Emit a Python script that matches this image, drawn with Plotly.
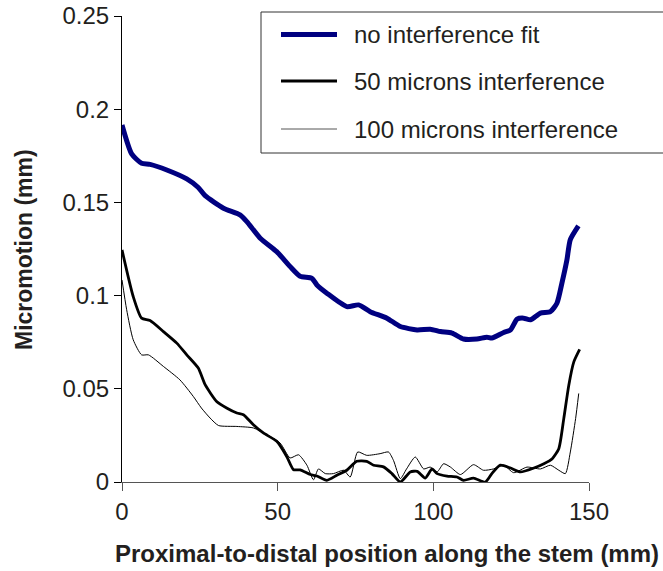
import plotly.graph_objects as go

# ---- data ----
x_nofit = [0, 3.1, 6.3, 9, 14.4, 20.8, 24.5, 26.7, 32.6, 37.9, 40.1, 44.4, 49.7, 54, 57.2, 61, 62.6,
           65.8, 72.2, 76, 79.7, 85.1, 89.4, 94.8, 99, 102.3, 106, 109.7, 114, 117.2, 118.8, 122.6,
           124.8, 126.9, 129, 131.2, 134.4, 137.6, 139.7, 141.3, 142.9, 144, 146.6]
y_nofit = [0.1915, 0.176, 0.171, 0.1704, 0.1674, 0.1626, 0.158, 0.1536, 0.1469, 0.1433, 0.1397,
           0.1308, 0.1236, 0.1156, 0.1104, 0.1093, 0.1057, 0.1013, 0.0941, 0.095, 0.0914, 0.0879,
           0.0834, 0.0816, 0.082, 0.0807, 0.0799, 0.0767, 0.0767, 0.0777, 0.0772, 0.0802, 0.0816,
           0.0874, 0.0879, 0.087, 0.0906, 0.0914, 0.0959, 0.1067, 0.1191, 0.13, 0.1374]

x_50 = [0, 3.6, 6.3, 9, 13.3, 17.6, 20.8, 24.5, 26.7, 30.4, 33.6, 36.9, 39, 42.2, 45.4, 49.7, 52.9,
        55.1, 57.2, 60.5, 62.6, 65.8, 69, 72.2, 75.4, 78.6, 80.8, 84, 86.7, 89.4, 92.6, 94.8, 97.4,
        99.6, 101.2, 104.4, 107.6, 109.7, 112.9, 116.7, 118.8, 121.5, 124.8, 128, 132.3, 135.5,
        138.2, 140.3, 141.9, 143.5, 145.1, 147]
y_50 = [0.1245, 0.0995, 0.0879, 0.0866, 0.0807, 0.0745, 0.0682, 0.0611, 0.0522, 0.0432, 0.0397,
        0.037, 0.0361, 0.0307, 0.0263, 0.0218, 0.0137, 0.0066, 0.0065, 0.0040, 0.0032, 0.0009,
        0.0036, 0.0063, 0.0111, 0.0111, 0.009, 0.0081, 0.0045, 0.0, 0.0054, 0.0057, 0.0021, 0.007,
        0.0045, 0.0032, 0.0027, 0.0009, 0.0021, 0.0, 0.0045, 0.009, 0.0075, 0.0054, 0.0075, 0.0098,
        0.0125, 0.0179, 0.034, 0.0518, 0.0643, 0.0711]

x_100 = [0, 1.5, 3.6, 6.3, 8.5, 13.3, 18.6, 22.9, 25.5, 28.3, 31, 36.9, 42.2, 46.5, 50.8, 54, 56.7,
         59.4, 61.5, 63.1, 65.3, 67.9, 71.2, 73.3, 75.7, 78.6, 82.9, 85.6, 87.2, 89.4, 91.4, 94.2,
         96.9, 99, 101.2, 103.3, 105.5, 108.7, 112.9, 116.1, 119.3, 122.6, 125.8, 130.1, 134.4,
         137.6, 140.3, 142.4, 144, 145.7, 146.7]
y_100 = [0.1084, 0.0924, 0.0763, 0.0682, 0.0682, 0.062, 0.0548, 0.0459, 0.0397, 0.0343, 0.0303,
         0.0298, 0.029, 0.0254, 0.0209, 0.0129, 0.0146, 0.009, 0.0012, 0.007, 0.0045, 0.0045,
         0.0063, 0.0027, 0.0161, 0.0143, 0.0152, 0.0161, 0.0116, 0.0018, 0.007, 0.0134, 0.007,
         0.008, 0.0054, 0.0098, 0.008, 0.004, 0.0093, 0.0063, 0.007, 0.009, 0.005, 0.008, 0.007,
         0.009, 0.0063, 0.0045, 0.0161, 0.034, 0.0475]

series_names = ["no interference fit", "50 microns interference", "100 microns interference"]
x_ticks = [0, 50, 100, 150]
y_ticks = [0, 0.05, 0.1, 0.15, 0.2, 0.25]
y_tick_text = ["0", "0.05", "0.1", "0.15", "0.2", "0.25"]
x_title = "Proximal-to-distal position along the stem (mm)"
y_title = "Micromotion (mm)"

FONT = "Liberation Sans, Arial, sans-serif"
TXT = "#231f20"

W, H = 663, 571
L, R, T, B = 122, 74, 16, 89
pw, ph = W - L - R, H - T - B


def px2paper(px, py):
    return (px - L) / pw, (H - B - py) / ph


fig = go.Figure()
styles = [
    dict(color="#000080", width=5),
    dict(color="#000000", width=2.8),
    dict(color="#000000", width=1),
]
for xs, ys, nm, st in zip([x_nofit, x_50, x_100], [y_nofit, y_50, y_100], series_names, styles):
    fig.add_trace(go.Scatter(x=xs, y=ys, mode="lines", name=nm,
                             line=dict(shape="spline", smoothing=0.6, **st),
                             showlegend=False, cliponaxis=False))

# ---- legend drawn as a box with samples ----
shapes = []
annotations = []
x0, y0 = px2paper(261, 12)
x1, y1 = px2paper(672, 153)
shapes.append(dict(type="rect", xref="paper", yref="paper", x0=x0, x1=x1, y0=y1, y1=y0,
                   line=dict(color="#333333", width=1), fillcolor="rgba(255,255,255,0)",
                   layer="above"))
leg_y = [34.5, 81, 129]
leg_styles = [dict(color="#000080", width=5), dict(color="#000000", width=2.8),
              dict(color="#555555", width=1)]
for yy, st, nm in zip(leg_y, leg_styles, series_names):
    a0, b0 = px2paper(281, yy)
    a1, _ = px2paper(337, yy)
    shapes.append(dict(type="line", xref="paper", yref="paper", x0=a0, x1=a1, y0=b0, y1=b0,
                       line=st, layer="above"))
    ta, tb = px2paper(352, yy)
    annotations.append(dict(text=nm, xref="paper", yref="paper", x=ta, y=tb, xanchor="left",
                            yanchor="middle", showarrow=False,
                            font=dict(family=FONT, size=24, color=TXT)))

# axis titles
tx, ty = px2paper(387, 553)
annotations.append(dict(text="<b>%s</b>" % x_title, xref="paper", yref="paper", x=tx, y=ty,
                        xanchor="center", yanchor="middle", showarrow=False,
                        font=dict(family=FONT, size=24, color=TXT)))
tx, ty = px2paper(24, 250)
annotations.append(dict(text="<b>%s</b>" % y_title, xref="paper", yref="paper", x=tx, y=ty,
                        xanchor="center", yanchor="middle", showarrow=False, textangle=-90,
                        font=dict(family=FONT, size=23, color=TXT)))

fig.update_layout(
    width=W, height=H,
    margin=dict(l=L, r=R, t=T, b=B, pad=0, autoexpand=False),
    paper_bgcolor="white", plot_bgcolor="white",
    shapes=shapes, annotations=annotations,
    font=dict(family=FONT, size=24, color=TXT),
    xaxis=dict(range=[0, 150], tickvals=x_ticks, ticks="outside", ticklen=8, tickcolor="#555555",
               showline=True, linecolor="#555555", linewidth=1, showgrid=False, zeroline=False,
               automargin=False,
               tickfont=dict(family=FONT, size=24, color=TXT)),
    yaxis=dict(range=[0, 0.25], tickvals=y_ticks, ticktext=y_tick_text, ticks="outside",
               ticklen=7, tickcolor="#000000", showline=True, linecolor="#000000", linewidth=1,
               showgrid=False, zeroline=False, automargin=False,
               tickfont=dict(family=FONT, size=24, color=TXT)),
)

fig.write_html("out.html")
